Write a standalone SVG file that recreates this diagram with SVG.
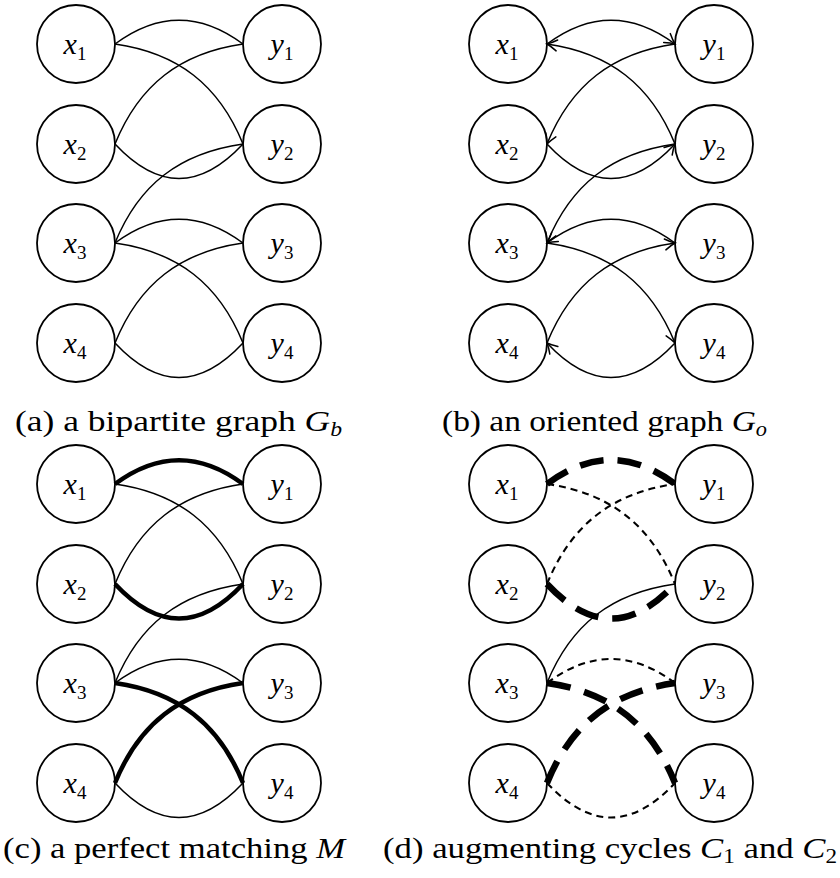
<svg xmlns="http://www.w3.org/2000/svg" width="840" height="878" viewBox="0 0 840 878" font-family="Liberation Serif, DejaVu Serif, serif">
<style>
.bg{fill:#fff}
.n circle{fill:none;stroke:#000;stroke-width:1.8}
.lbl{font-style:italic;font-size:30px;fill:#000;text-anchor:middle}
.sub{font-style:normal;font-size:19px}
.e{fill:none;stroke:#000;stroke-width:1.5}
.thick{stroke-width:4.5}
.td{stroke-width:6.5;stroke-dasharray:24 14}
.d{stroke-width:2.1;stroke-dasharray:7 5}
.arr{marker-end:url(#arrow)}
.cap{font-size:30px;fill:#000}
.mi{font-style:italic}
.cs{font-size:20px}
</style>
<defs>
<marker id="arrow" viewBox="-12 -7 14 14" refX="0" refY="0" markerWidth="14" markerHeight="14" markerUnits="userSpaceOnUse" orient="auto">
<path d="M-10,-5.5 Q-4,-1.5 0,0 Q-4,1.5 -10,5.5" fill="none" stroke="#000" stroke-width="1.5" stroke-linecap="round"/>
</marker>
</defs>
<rect class="bg" x="0" y="0" width="840" height="878"/>

<!-- Panel (a) -->
<g id="panel-a">
<g id="a-edges">
<path class="e" d="M115,44 C158,12 200,12 243,44"/>
<path class="e" d="M115,44 C178,53 219,85 243,144"/>
<path class="e" d="M115,144 C139,85 180,53 243,44"/>
<path class="e" d="M115,144 C158,190 200,190 243,144"/>
<path class="e" d="M115,243 C139,184 180,153 243,144"/>
<path class="e" d="M115,243 C158,211 200,211 243,243"/>
<path class="e" d="M115,243 C178,252 219,284 243,343"/>
<path class="e" d="M115,343 C139,284 180,252 243,243"/>
<path class="e" d="M115,343 C158,389 200,389 243,343"/>
</g>
<g id="a-x1" class="n"><circle cx="76" cy="44" r="39"/><text class="lbl" x="75" y="54">x<tspan class="sub" dy="6">1</tspan></text></g>
<g id="a-x2" class="n"><circle cx="76" cy="144" r="39"/><text class="lbl" x="75" y="154">x<tspan class="sub" dy="6">2</tspan></text></g>
<g id="a-x3" class="n"><circle cx="76" cy="243" r="39"/><text class="lbl" x="75" y="253">x<tspan class="sub" dy="6">3</tspan></text></g>
<g id="a-x4" class="n"><circle cx="76" cy="343" r="39"/><text class="lbl" x="75" y="353">x<tspan class="sub" dy="6">4</tspan></text></g>
<g id="a-y1" class="n"><circle cx="282" cy="44" r="39"/><text class="lbl" x="282" y="54">y<tspan class="sub" dy="6">1</tspan></text></g>
<g id="a-y2" class="n"><circle cx="282" cy="144" r="39"/><text class="lbl" x="282" y="154">y<tspan class="sub" dy="6">2</tspan></text></g>
<g id="a-y3" class="n"><circle cx="282" cy="243" r="39"/><text class="lbl" x="282" y="253">y<tspan class="sub" dy="6">3</tspan></text></g>
<g id="a-y4" class="n"><circle cx="282" cy="343" r="39"/><text class="lbl" x="282" y="353">y<tspan class="sub" dy="6">4</tspan></text></g>
<text class="cap" x="15" y="431" textLength="327" lengthAdjust="spacingAndGlyphs">(a) a bipartite graph <tspan class="mi">G</tspan><tspan class="mi cs" dy="5">b</tspan></text>
</g>

<!-- Panel (b) -->
<g id="panel-b" transform="translate(432,0)">
<g id="b-edges">
<path class="e arr" d="M115,44 C158,12 200,12 243,44"/>
<path class="e arr" d="M243,144 C219,85 178,53 115,44"/>
<path class="e arr" d="M243,44 C180,53 139,85 115,144"/>
<path class="e arr" d="M115,144 C158,190 200,190 243,144"/>
<path class="e arr" d="M243,144 C180,153 139,184 115,243"/>
<path class="e arr" d="M243,243 C200,211 158,211 115,243"/>
<path class="e arr" d="M115,243 C178,252 219,284 243,343"/>
<path class="e arr" d="M115,343 C139,284 180,252 243,243"/>
<path class="e arr" d="M243,343 C200,389 158,389 115,343"/>
</g>
<g id="b-x1" class="n"><circle cx="76" cy="44" r="39"/><text class="lbl" x="75" y="54">x<tspan class="sub" dy="6">1</tspan></text></g>
<g id="b-x2" class="n"><circle cx="76" cy="144" r="39"/><text class="lbl" x="75" y="154">x<tspan class="sub" dy="6">2</tspan></text></g>
<g id="b-x3" class="n"><circle cx="76" cy="243" r="39"/><text class="lbl" x="75" y="253">x<tspan class="sub" dy="6">3</tspan></text></g>
<g id="b-x4" class="n"><circle cx="76" cy="343" r="39"/><text class="lbl" x="75" y="353">x<tspan class="sub" dy="6">4</tspan></text></g>
<g id="b-y1" class="n"><circle cx="282" cy="44" r="39"/><text class="lbl" x="282" y="54">y<tspan class="sub" dy="6">1</tspan></text></g>
<g id="b-y2" class="n"><circle cx="282" cy="144" r="39"/><text class="lbl" x="282" y="154">y<tspan class="sub" dy="6">2</tspan></text></g>
<g id="b-y3" class="n"><circle cx="282" cy="243" r="39"/><text class="lbl" x="282" y="253">y<tspan class="sub" dy="6">3</tspan></text></g>
<g id="b-y4" class="n"><circle cx="282" cy="343" r="39"/><text class="lbl" x="282" y="353">y<tspan class="sub" dy="6">4</tspan></text></g>
<text class="cap" x="10" y="431" textLength="325" lengthAdjust="spacingAndGlyphs">(b) an oriented graph <tspan class="mi">G</tspan><tspan class="mi cs" dy="5">o</tspan></text>
</g>

<!-- Panel (c) -->
<g id="panel-c" transform="translate(0,440)">
<g id="c-edges">
<path class="e thick" d="M115,44 C158,12 200,12 243,44"/>
<path class="e" d="M115,44 C178,53 219,85 243,144"/>
<path class="e" d="M115,144 C139,85 180,53 243,44"/>
<path class="e thick" d="M115,144 C158,190 200,190 243,144"/>
<path class="e" d="M115,243 C139,184 180,153 243,144"/>
<path class="e" d="M115,243 C158,211 200,211 243,243"/>
<path class="e thick" d="M115,243 C178,252 219,284 243,343"/>
<path class="e thick" d="M115,343 C139,284 180,252 243,243"/>
<path class="e" d="M115,343 C158,389 200,389 243,343"/>
</g>
<g id="c-x1" class="n"><circle cx="76" cy="44" r="39"/><text class="lbl" x="75" y="54">x<tspan class="sub" dy="6">1</tspan></text></g>
<g id="c-x2" class="n"><circle cx="76" cy="144" r="39"/><text class="lbl" x="75" y="154">x<tspan class="sub" dy="6">2</tspan></text></g>
<g id="c-x3" class="n"><circle cx="76" cy="243" r="39"/><text class="lbl" x="75" y="253">x<tspan class="sub" dy="6">3</tspan></text></g>
<g id="c-x4" class="n"><circle cx="76" cy="343" r="39"/><text class="lbl" x="75" y="353">x<tspan class="sub" dy="6">4</tspan></text></g>
<g id="c-y1" class="n"><circle cx="282" cy="44" r="39"/><text class="lbl" x="282" y="54">y<tspan class="sub" dy="6">1</tspan></text></g>
<g id="c-y2" class="n"><circle cx="282" cy="144" r="39"/><text class="lbl" x="282" y="154">y<tspan class="sub" dy="6">2</tspan></text></g>
<g id="c-y3" class="n"><circle cx="282" cy="243" r="39"/><text class="lbl" x="282" y="253">y<tspan class="sub" dy="6">3</tspan></text></g>
<g id="c-y4" class="n"><circle cx="282" cy="343" r="39"/><text class="lbl" x="282" y="353">y<tspan class="sub" dy="6">4</tspan></text></g>
<text class="cap" x="3" y="418" textLength="342" lengthAdjust="spacingAndGlyphs">(c) a perfect matching <tspan class="mi">M</tspan></text>
</g>

<!-- Panel (d) -->
<g id="panel-d" transform="translate(432,440)">
<g id="d-edges">
<path class="e td" d="M115,44 C158,12 200,12 243,44"/>
<path class="e d" d="M115,44 C178,53 219,85 243,144"/>
<path class="e d" d="M115,144 C139,85 180,53 243,44"/>
<path class="e td" d="M115,144 C158,190 200,190 243,144"/>
<path class="e" d="M115,243 C139,184 180,153 243,144"/>
<path class="e d" d="M115,243 C158,211 200,211 243,243"/>
<path class="e td" d="M115,243 C178,252 219,284 243,343"/>
<path class="e td" d="M115,343 C139,284 180,252 243,243"/>
<path class="e d" d="M115,343 C158,389 200,389 243,343"/>
</g>
<g id="d-x1" class="n"><circle cx="76" cy="44" r="39"/><text class="lbl" x="75" y="54">x<tspan class="sub" dy="6">1</tspan></text></g>
<g id="d-x2" class="n"><circle cx="76" cy="144" r="39"/><text class="lbl" x="75" y="154">x<tspan class="sub" dy="6">2</tspan></text></g>
<g id="d-x3" class="n"><circle cx="76" cy="243" r="39"/><text class="lbl" x="75" y="253">x<tspan class="sub" dy="6">3</tspan></text></g>
<g id="d-x4" class="n"><circle cx="76" cy="343" r="39"/><text class="lbl" x="75" y="353">x<tspan class="sub" dy="6">4</tspan></text></g>
<g id="d-y1" class="n"><circle cx="282" cy="44" r="39"/><text class="lbl" x="282" y="54">y<tspan class="sub" dy="6">1</tspan></text></g>
<g id="d-y2" class="n"><circle cx="282" cy="144" r="39"/><text class="lbl" x="282" y="154">y<tspan class="sub" dy="6">2</tspan></text></g>
<g id="d-y3" class="n"><circle cx="282" cy="243" r="39"/><text class="lbl" x="282" y="253">y<tspan class="sub" dy="6">3</tspan></text></g>
<g id="d-y4" class="n"><circle cx="282" cy="343" r="39"/><text class="lbl" x="282" y="353">y<tspan class="sub" dy="6">4</tspan></text></g>
<text class="cap" x="-49" y="418" textLength="454" lengthAdjust="spacingAndGlyphs">(d) augmenting cycles <tspan class="mi">C</tspan><tspan class="cs" dy="5">1</tspan><tspan dy="-5"> and </tspan><tspan class="mi">C</tspan><tspan class="cs" dy="5">2</tspan></text>
</g>
</svg>
